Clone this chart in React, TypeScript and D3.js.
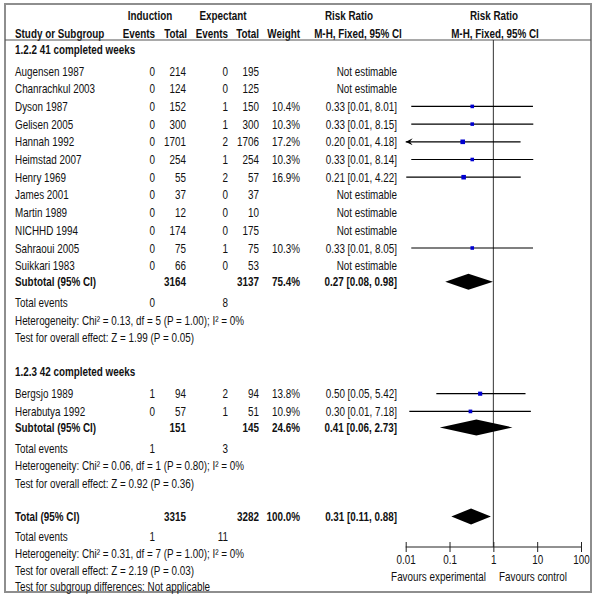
import React, { useRef, useEffect } from "react";
import * as d3 from "d3";

// study level data, two subgroups
const groupTitles = ["1.2.2 41 completed weeks", "1.2.3 42 completed weeks"];
const studyGroup = [0, 0, 0, 0, 0, 0, 0, 0, 0, 0, 0, 0, 1, 1];
const studyNames = [
  "Augensen 1987", "Chanrachkul 2003", "Dyson 1987", "Gelisen 2005", "Hannah 1992",
  "Heimstad 2007", "Henry 1969", "James 2001", "Martin 1989", "NICHHD 1994",
  "Sahraoui 2005", "Suikkari 1983", "Bergsjo 1989", "Herabutya 1992",
];
const indEvents = [0, 0, 0, 0, 0, 0, 0, 0, 0, 0, 0, 0, 1, 0];
const indTotals = [214, 124, 152, 300, 1701, 254, 55, 37, 12, 174, 75, 66, 94, 57];
const expEvents = [0, 0, 1, 1, 2, 1, 2, 0, 0, 0, 1, 0, 2, 1];
const expTotals = [195, 125, 150, 300, 1706, 254, 57, 37, 10, 175, 75, 53, 94, 51];
const weights = [null, null, 10.4, 10.3, 17.2, 10.3, 16.9, null, null, null, 10.3, null, 13.8, 10.9];
const ratios = [null, null, 0.33, 0.33, 0.2, 0.33, 0.21, null, null, null, 0.33, null, 0.5, 0.3];
const ciLow = [null, null, 0.0134, 0.0134, 0.0095, 0.0134, 0.0103, null, null, null, 0.0134, null, 0.05, 0.0121];
const ciHigh = [null, null, 8.01, 8.15, 4.18, 8.14, 4.22, null, null, null, 8.05, null, 5.42, 7.18];

// subgroup summaries
const subIndTotals = [3164, 151];
const subExpTotals = [3137, 145];
const subWeights = [75.4, 24.6];
const subRatios = [0.27, 0.41];
const subLow = [0.08, 0.06];
const subHigh = [0.98, 2.73];
const subIndEvents = [0, 1];
const subExpEvents = [8, 3];
const subHetero = [
  "Heterogeneity: Chi² = 0.13, df = 5 (P = 1.00); I² = 0%",
  "Heterogeneity: Chi² = 0.06, df = 1 (P = 0.80); I² = 0%",
];
const subEffect = [
  "Test for overall effect: Z = 1.99 (P = 0.05)",
  "Test for overall effect: Z = 0.92 (P = 0.36)",
];

// overall
const totalInd = 3315;
const totalExp = 3282;
const totalWeight = 100.0;
const totalRatio = [0.31, 0.11, 0.88];
const totalIndEvents = 1;
const totalExpEvents = 11;
const totalNotes = [
  "Heterogeneity: Chi² = 0.31, df = 7 (P = 1.00); I² = 0%",
  "Test for overall effect: Z = 2.19 (P = 0.03)",
  "Test for subgroup differences: Not applicable",
];

const axisTicks = [0.01, 0.1, 1, 10, 100];

// no Arial Narrow here, so squeeze Liberation Sans horizontally
const FONT = "'Liberation Sans', Arial, sans-serif";
const FS = 13;
const NARROW = 0.76;
const f2 = d3.format(".2f");
const ciText = (r, lo, hi) => `${f2(r)} [${f2(lo)}, ${f2(hi)}]`;

// column anchors
const colName = 15;
const colIndEv = 155;
const colIndTot = 186;
const colExpEv = 228;
const colExpTot = 259;
const colWeight = 300;
const colCI = 397;

const T = ({ x, y, ...rest }) => (
  <text
    transform={`translate(${x},${y}) scale(${NARROW},1)`}
    dominantBaseline="central"
    fill="#111"
    {...rest}
  />
);

const App = () => {
  const width = 600;
  const height = 601;
  const axisY = 547;
  const gx = useRef(null);

  const x = d3.scaleLog().domain([0.01, 100]).range([405.7, 581]);
  const boxSize = d3.scaleSqrt().domain([0, 17.2]).range([0, 4.6]);

  useEffect(() => {
    const g = d3.select(gx.current);
    g.call(
      d3.axisBottom(x).tickValues(axisTicks).tickSize(5).tickSizeOuter(0)
        .tickFormat((d) => String(d))
    );
    g.select(".domain").attr("stroke", "#222").attr("d", `M${x(0.01)},0H${x(100)}`);
    g.selectAll(".tick line").attr("y1", -5).attr("y2", 5).attr("stroke", "#222");
    g.selectAll(".tick text")
      .attr("y", 0)
      .attr("dy", null)
      .attr("transform", `translate(0,12) scale(${NARROW},1)`)
      .attr("dominant-baseline", "central")
      .attr("fill", "#111")
      .style("font-family", FONT)
      .style("font-size", `${FS}px`);
  }, []);

  // build row layout
  const rows = [];
  let y = 49;
  groupTitles.forEach((title, gi) => {
    rows.push({ type: "title", y, text: title });
    y += 22;
    studyNames.forEach((n, i) => {
      if (studyGroup[i] !== gi) return;
      rows.push({ type: "study", y, i });
      y += 17.7;
    });
    y -= 1.7;
    rows.push({ type: "sub", y, gi });
    y += 21;
    rows.push({ type: "events", y, a: subIndEvents[gi], b: subExpEvents[gi] });
    y += 17.5;
    rows.push({ type: "note", y, text: subHetero[gi] });
    y += 17.5;
    rows.push({ type: "note", y, text: subEffect[gi] });
    y += 34;
  });
  y -= 1;
  rows.push({ type: "total", y });
  y += 20;
  rows.push({ type: "events", y, a: totalIndEvents, b: totalExpEvents });
  y += 17;
  totalNotes.forEach((t) => {
    rows.push({ type: "note", y, text: t });
    y += 16.7;
  });

  const diamond = (yy, r, lo, hi) => {
    const h = 8;
    const pts = [[x(lo), yy], [x(r), yy - h], [x(hi), yy], [x(r), yy + h]];
    return <polygon points={pts.map((p) => p.join(",")).join(" ")} fill="#000" />;
  };

  return (
    <div style={{ position: "absolute", left: 0, top: 0 }}>
      <svg width={width} height={height} style={{ display: "block", fontFamily: FONT, fontSize: FS }}>
        <defs>
          <marker id="arr" viewBox="0 0 10 10" refX="0" refY="5" markerWidth="7" markerHeight="7"
            markerUnits="userSpaceOnUse" orient="auto">
            <path d="M0,5 L10,0 L6,5 L10,10 Z" fill="#000" />
          </marker>
        </defs>
        <rect x={5} y={4} width={586} height={588} fill="none" stroke="#8e8e8e" strokeWidth={2} />

        {/* header */}
        <g fontWeight="bold">
          <T x={150} y={15} textAnchor="middle">Induction</T>
          <T x={223} y={15} textAnchor="middle">Expectant</T>
          <T x={349} y={15} textAnchor="middle">Risk Ratio</T>
          <T x={494} y={15} textAnchor="middle">Risk Ratio</T>
          <T x={colName} y={33}>Study or Subgroup</T>
          <T x={colIndEv} y={33} textAnchor="end">Events</T>
          <T x={colIndTot + 1} y={33} textAnchor="end">Total</T>
          <T x={colExpEv} y={33} textAnchor="end">Events</T>
          <T x={colExpTot} y={33} textAnchor="end">Total</T>
          <T x={colWeight} y={33} textAnchor="end">Weight</T>
          <T x={358} y={33} textAnchor="middle">M-H, Fixed, 95% CI</T>
          <T x={495} y={33} textAnchor="middle">M-H, Fixed, 95% CI</T>
        </g>
        <line x1={5} x2={591} y1={40} y2={40} stroke="#555" strokeWidth={1.2} />

        {/* line of no effect */}
        <line x1={x(1)} x2={x(1)} y1={40} y2={axisY} stroke="#333" strokeWidth={1} />

        {rows.map((r, k) => {
          if (r.type === "title")
            return <T key={k} x={colName} y={r.y} fontWeight="bold">{r.text}</T>;
          if (r.type === "note")
            return <T key={k} x={colName} y={r.y}>{r.text}</T>;
          if (r.type === "events")
            return (
              <g key={k}>
                <T x={colName} y={r.y}>Total events</T>
                <T x={colIndEv} y={r.y} textAnchor="end">{r.a}</T>
                <T x={colExpEv} y={r.y} textAnchor="end">{r.b}</T>
              </g>
            );
          if (r.type === "study") {
            const i = r.i;
            const est = ratios[i] != null;
            const lo = est ? Math.max(ciLow[i], 0.01) : null;
            const s = est ? boxSize(weights[i]) : 0;
            return (
              <g key={k}>
                <T x={colName} y={r.y}>{studyNames[i]}</T>
                <T x={colIndEv} y={r.y} textAnchor="end">{indEvents[i]}</T>
                <T x={colIndTot} y={r.y} textAnchor="end">{indTotals[i]}</T>
                <T x={colExpEv} y={r.y} textAnchor="end">{expEvents[i]}</T>
                <T x={colExpTot} y={r.y} textAnchor="end">{expTotals[i]}</T>
                {est && <T x={colWeight} y={r.y} textAnchor="end">{weights[i].toFixed(1)}%</T>}
                <T x={colCI} y={r.y} textAnchor="end">
                  {est ? ciText(ratios[i], ciLow[i], ciHigh[i]) : "Not estimable"}
                </T>
                {est && (
                  <>
                    <line
                      x1={x(lo)} x2={x(ciHigh[i])} y1={r.y} y2={r.y}
                      stroke="#000" strokeWidth={1.2}
                      markerStart={ciLow[i] < 0.01 ? "url(#arr)" : undefined}
                    />
                    <rect x={x(ratios[i]) - s / 2} y={r.y - s / 2} width={s} height={s} fill="#0000d0" />
                  </>
                )}
              </g>
            );
          }
          if (r.type === "sub") {
            const gi = r.gi;
            return (
              <g key={k} fontWeight="bold">
                <T x={colName} y={r.y}>Subtotal (95% CI)</T>
                <T x={colIndTot} y={r.y} textAnchor="end">{subIndTotals[gi]}</T>
                <T x={colExpTot} y={r.y} textAnchor="end">{subExpTotals[gi]}</T>
                <T x={colWeight} y={r.y} textAnchor="end">{subWeights[gi].toFixed(1)}%</T>
                <T x={colCI} y={r.y} textAnchor="end">{ciText(subRatios[gi], subLow[gi], subHigh[gi])}</T>
                {diamond(r.y, subRatios[gi], subLow[gi], subHigh[gi])}
              </g>
            );
          }
          if (r.type === "total")
            return (
              <g key={k} fontWeight="bold">
                <T x={colName} y={r.y}>Total (95% CI)</T>
                <T x={colIndTot} y={r.y} textAnchor="end">{totalInd}</T>
                <T x={colExpTot} y={r.y} textAnchor="end">{totalExp}</T>
                <T x={colWeight} y={r.y} textAnchor="end">{totalWeight.toFixed(1)}%</T>
                <T x={colCI} y={r.y} textAnchor="end">{ciText(totalRatio[0], totalRatio[1], totalRatio[2])}</T>
                {diamond(r.y, totalRatio[0], totalRatio[1], totalRatio[2])}
              </g>
            );
          return null;
        })}

        <g ref={gx} transform={`translate(0, ${axisY})`} />
        <T x={486} y={576} textAnchor="end">Favours experimental</T>
        <T x={499} y={576}>Favours control</T>
      </svg>
    </div>
  );
};

export default App;
